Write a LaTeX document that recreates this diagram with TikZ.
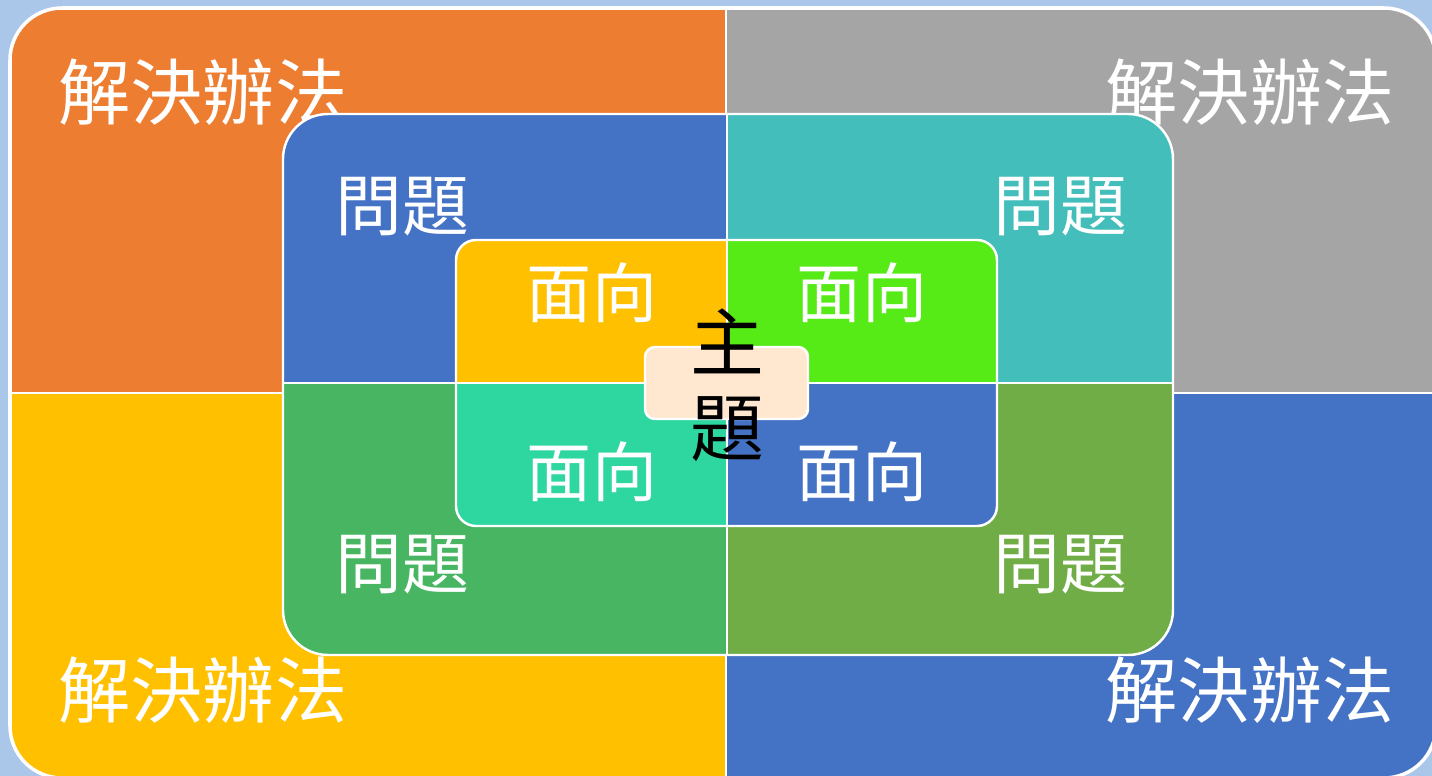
\documentclass[tikz,border=0pt]{standalone}
\usepackage{fontspec}
\newfontfamily\cjk{Noto Sans CJK TC}
\definecolor{bgblue}{HTML}{AAC6E8}
\definecolor{solA}{HTML}{ED7D31}
\definecolor{solB}{HTML}{A5A5A5}
\definecolor{solC}{HTML}{FFC000}
\definecolor{solD}{HTML}{4472C4}
\definecolor{probA}{HTML}{4472C4}
\definecolor{probB}{HTML}{44BEBA}
\definecolor{probC}{HTML}{48B563}
\definecolor{probD}{HTML}{70AD47}
\definecolor{aspA}{HTML}{FFC000}
\definecolor{aspB}{HTML}{56EA17}
\definecolor{aspC}{HTML}{2ED6A0}
\definecolor{aspD}{HTML}{4472C4}
\definecolor{topic}{HTML}{FFE7D0}

\begin{document}
\begin{tikzpicture}[x=0.01cm,y=-0.01cm]
                \tikzstyle{every node}+=[inner sep=0pt]
                \tikzstyle{sol}=[text=white,font=\cjk\fontsize{20.5}{20.5}\selectfont]
                \tikzstyle{prob}=[text=white,font=\cjk\fontsize{19}{19}\selectfont]
                \tikzstyle{asp}=[text=white,font=\cjk\fontsize{18.5}{18.5}\selectfont]
                \tikzstyle{edge}=[white,line width=0.7pt]
                \useasboundingbox (0,0) rectangle (1432,776);
                \clip (0,0) rectangle (1432,776);
                \fill [bgblue] (0,0) rectangle (1432,776);
                \begin{scope}
                \clip [rounded corners=0.52cm] (10,8) rectangle (1436,778);
                \fill [solA] (10,8) rectangle (726,393);
                \fill [solB] (726,8) rectangle (1436,393);
                \fill [solC] (10,393) rectangle (726,778);
                \fill [solD] (726,393) rectangle (1436,778);
                \end{scope}
                \draw [edge] (726,8) -- (726,778);
                \draw [edge] (10,393) -- (1436,393);
                \draw [edge,line width=1pt,rounded corners=0.52cm] (10,8) rectangle (1436,778);
                \node [sol] (solTL) at (203,92) {解決辦法};
                \node [sol] (solTR) at (1250,92) {解決辦法};
                \node [sol] (solBL) at (203,690) {解決辦法};
                \node [sol] (solBR) at (1250,690) {解決辦法};
                \begin{scope}
                \clip [rounded corners=0.45cm] (283,114) rectangle (1173,655);
                \fill [probA] (283,114) rectangle (727,383);
                \fill [probB] (727,114) rectangle (1173,383);
                \fill [probC] (283,383) rectangle (727,655);
                \fill [probD] (727,383) rectangle (1173,655);
                \end{scope}
                \draw [edge] (727,114) -- (727,655);
                \draw [edge] (283,383) -- (1173,383);
                \draw [edge,rounded corners=0.45cm] (283,114) rectangle (1173,655);
                \node [prob] (probTL) at (402,207) {問題};
                \node [prob] (probTR) at (1060,207) {問題};
                \node [prob] (probBL) at (402,565) {問題};
                \node [prob] (probBR) at (1060,565) {問題};
                \begin{scope}
                \clip [rounded corners=0.2cm] (456,240) rectangle (997,526);
                \fill [aspA] (456,240) rectangle (727,383);
                \fill [aspB] (727,240) rectangle (997,383);
                \fill [aspC] (456,383) rectangle (727,526);
                \fill [aspD] (727,383) rectangle (997,526);
                \end{scope}
                \draw [edge] (727,240) -- (727,526);
                \draw [edge] (456,383) -- (997,383);
                \draw [edge,rounded corners=0.2cm] (456,240) rectangle (997,526);
                \node [asp] (aspTL) at (592,293) {面向};
                \node [asp] (aspTR) at (862,293) {面向};
                \node [asp] (aspBL) at (592,472) {面向};
                \node [asp] (aspBR) at (862,472) {面向};
                \draw [edge,fill=topic,rounded corners=0.1cm] (645,347) rectangle (808,419);
                \node [align=center,font=\cjk\fontsize{21}{24}\selectfont] (topic) at (727,385) {主\\題};
            \end{tikzpicture}
\end{document}
